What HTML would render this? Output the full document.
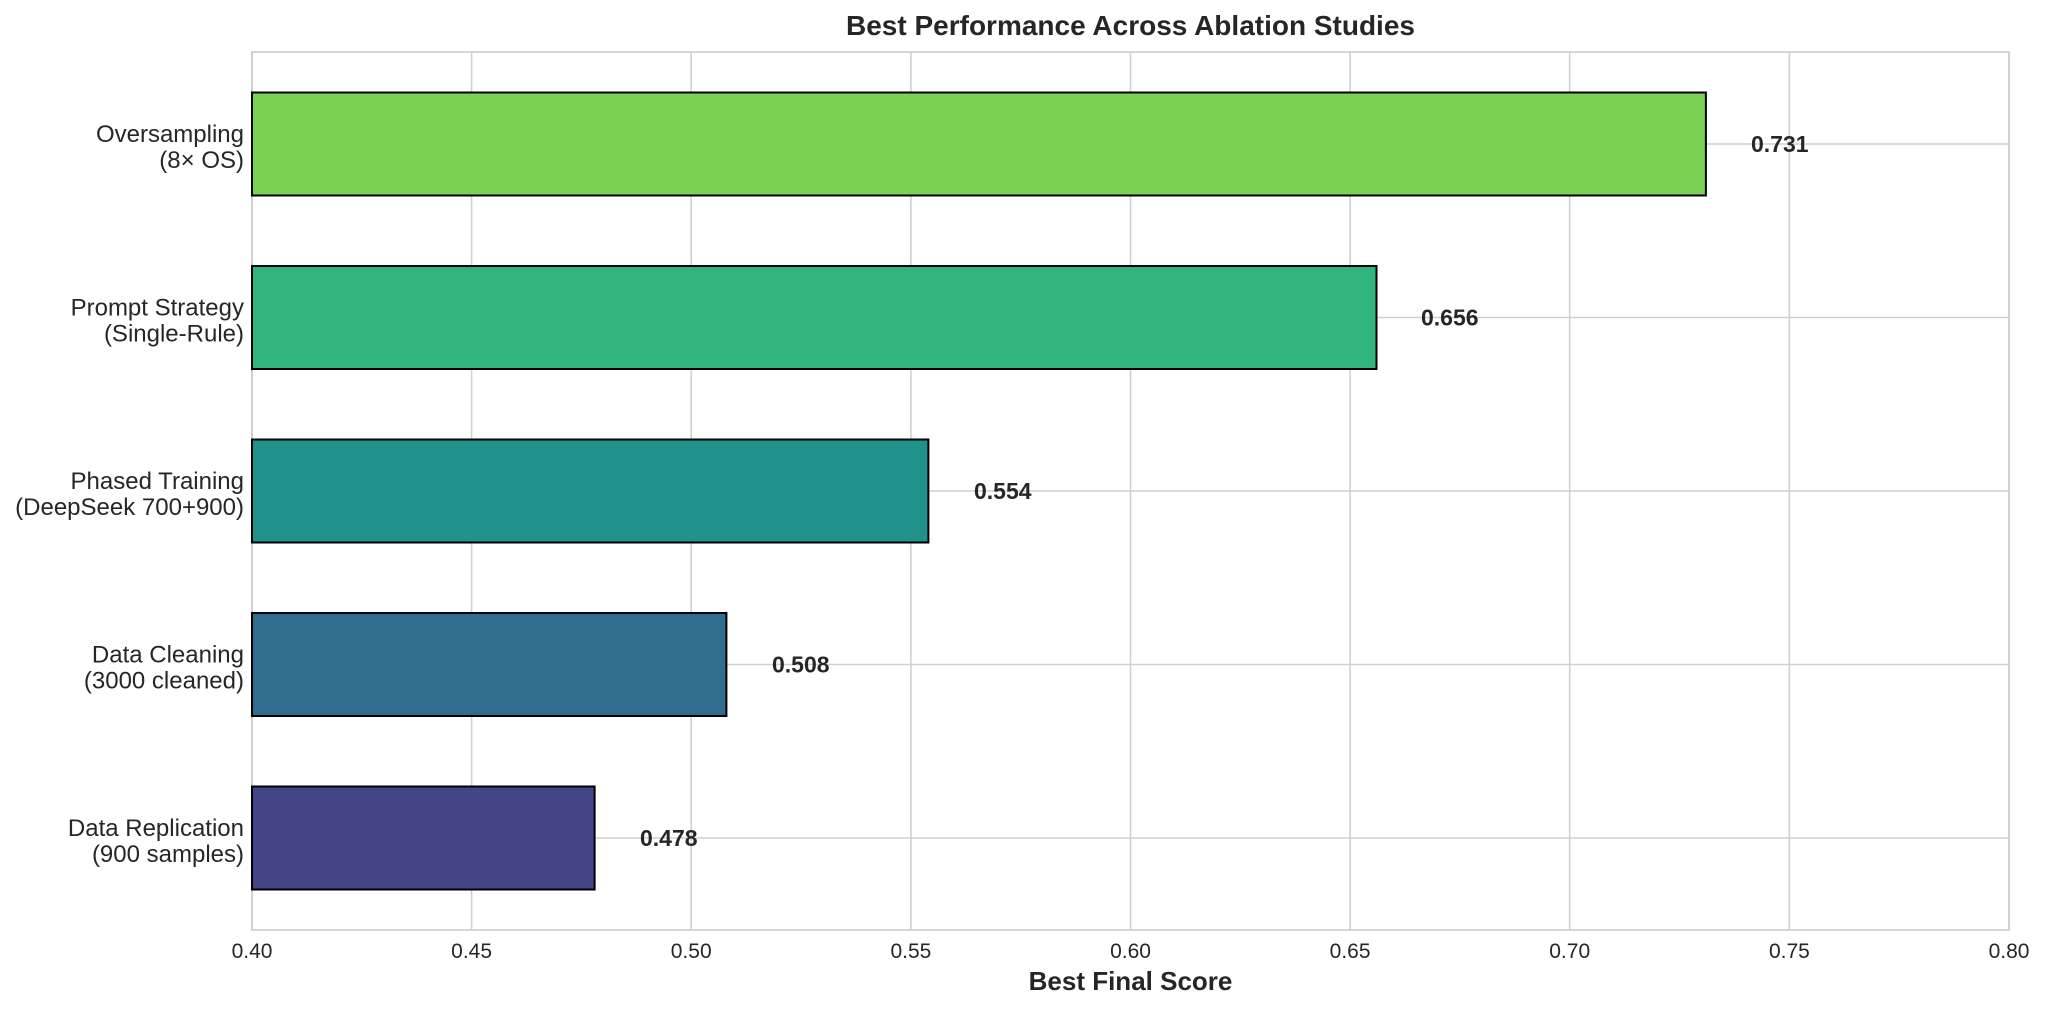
<!DOCTYPE html>
<html><head><meta charset="utf-8"><style>
body{margin:0;background:#fff;}
svg{display:block;font-family:"Liberation Sans",Arial,sans-serif;}
</style></head><body>
<svg width="2048" height="1013" viewBox="0 0 2048 1013">
<rect width="2048" height="1013" fill="#fff"/>
<g stroke="#d0d0d0" stroke-width="1.6">
<line x1="252" y1="52" x2="252" y2="930"/>
<line x1="471.6" y1="52" x2="471.6" y2="930"/>
<line x1="691.2" y1="52" x2="691.2" y2="930"/>
<line x1="910.9" y1="52" x2="910.9" y2="930"/>
<line x1="1130.5" y1="52" x2="1130.5" y2="930"/>
<line x1="1350.1" y1="52" x2="1350.1" y2="930"/>
<line x1="1569.7" y1="52" x2="1569.7" y2="930"/>
<line x1="1789.4" y1="52" x2="1789.4" y2="930"/>
<line x1="2009" y1="52" x2="2009" y2="930"/>
<line x1="252" y1="144" x2="2009" y2="144"/>
<line x1="252" y1="317.5" x2="2009" y2="317.5"/>
<line x1="252" y1="491" x2="2009" y2="491"/>
<line x1="252" y1="664.5" x2="2009" y2="664.5"/>
<line x1="252" y1="838" x2="2009" y2="838"/>
</g>
<rect x="252" y="52" width="1757" height="878" fill="none" stroke="#cccccc" stroke-width="1.6"/>
<g stroke="#000" stroke-width="2">
<rect x="252" y="92.5" width="1453.9" height="103" fill="#7ad151"/>
<rect x="252" y="266" width="1124.5" height="103" fill="#2fb47c"/>
<rect x="252" y="439.5" width="676.4" height="103" fill="#21918c"/>
<rect x="252" y="613" width="474.4" height="103" fill="#306d8e"/>
<rect x="252" y="786.5" width="342.6" height="103" fill="#434586"/>
</g>
<g font-size="23" font-weight="bold" fill="#262626">
<text x="1751" y="152">0.731</text>
<text x="1421" y="325.5">0.656</text>
<text x="974" y="499">0.554</text>
<text x="772" y="672.5">0.508</text>
<text x="640" y="846">0.478</text>
</g>
<g font-size="24" fill="#262626" text-anchor="end">
<text x="244" y="142">Oversampling</text><text x="244" y="168">(8× OS)</text>
<text x="244" y="315.5">Prompt Strategy</text><text x="244" y="341.5">(Single-Rule)</text>
<text x="244" y="489">Phased Training</text><text x="244" y="515">(DeepSeek 700+900)</text>
<text x="244" y="662.5">Data Cleaning</text><text x="244" y="688.5">(3000 cleaned)</text>
<text x="244" y="836">Data Replication</text><text x="244" y="862">(900 samples)</text>
</g>
<g font-size="21" fill="#262626" text-anchor="middle">
<text x="252" y="958">0.40</text>
<text x="471.6" y="958">0.45</text>
<text x="691.2" y="958">0.50</text>
<text x="910.9" y="958">0.55</text>
<text x="1130.5" y="958">0.60</text>
<text x="1350.1" y="958">0.65</text>
<text x="1569.7" y="958">0.70</text>
<text x="1789.4" y="958">0.75</text>
<text x="2009" y="958">0.80</text>
</g>
<text x="1130.5" y="990" font-size="26" font-weight="bold" fill="#262626" text-anchor="middle">Best Final Score</text>
<text x="1130.5" y="35" font-size="28" font-weight="bold" fill="#262626" text-anchor="middle">Best Performance Across Ablation Studies</text>
</svg>
</body></html>
